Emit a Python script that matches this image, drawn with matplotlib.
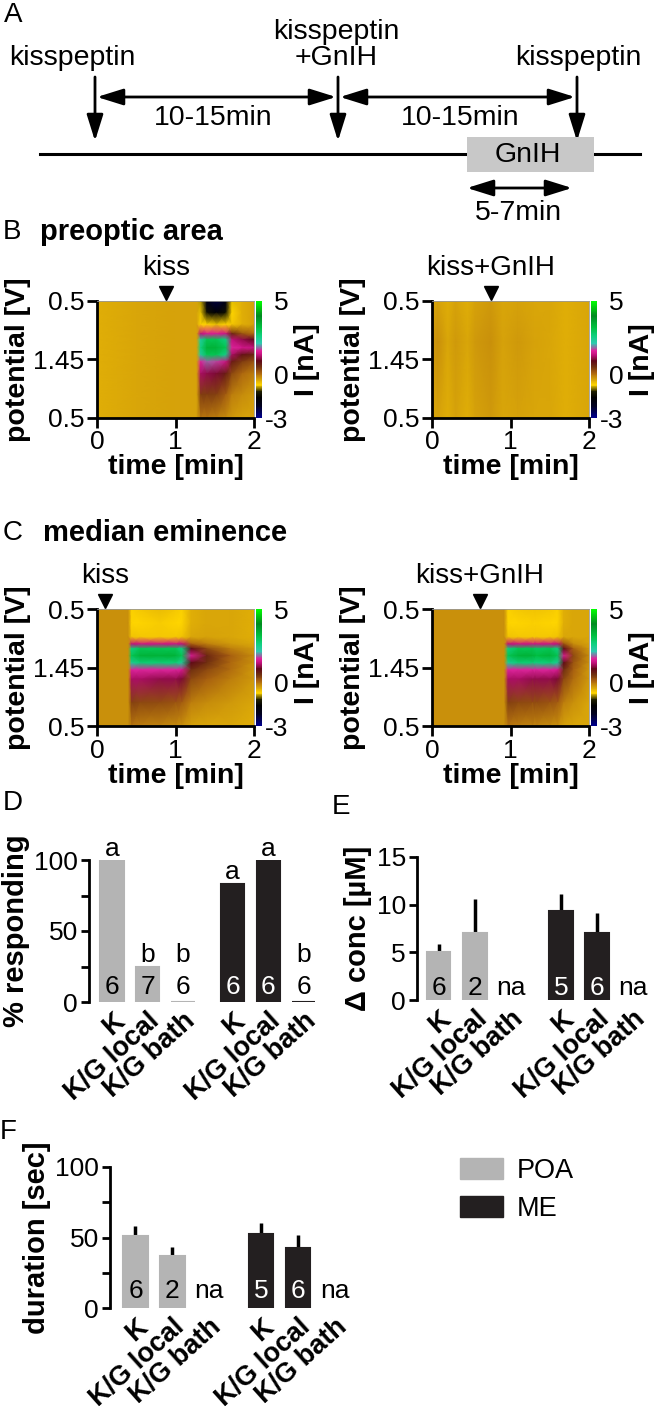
import matplotlib
matplotlib.use("Agg")
import matplotlib.pyplot as plt
import numpy as np
from matplotlib.colors import LinearSegmentedColormap
from matplotlib.patches import Rectangle, Patch

plt.rcParams['font.family'] = ['Liberation Sans', 'DejaVu Sans']
plt.rcParams['font.size'] = 19
plt.rcParams['axes.linewidth'] = 2

W, H = 656, 1411

# ---------------- data ----------------
# colour scale of the current plots (nA)
cscale_nA = [-3, -2.2, -1.6, -1.2, -0.75, -0.35, 0.1, 0.5, 0.9, 1.3, 1.6, 2.1, 2.6, 3.2, 4.0, 5.0]
cscale_col = ['#000090', '#000020', '#000000', '#202000', '#ffd500', '#d4a00a', '#a86010',
              '#703010', '#600818', '#c0107a', '#e0209a', '#30c8b0', '#10d080', '#00c040',
              '#008a20', '#00ff00']

# B left: preoptic area, kisspeptin (rows = fraction of sweep from top)
poa_kiss_t = [0, 0.5, 1.0, 1.27, 1.32, 1.4, 1.52, 1.64, 1.72, 1.85, 2.0]
poa_kiss_f = [0, 0.1, 0.2, 0.28, 0.33, 0.4, 0.46, 0.52, 0.62, 0.8, 1.0]
poa_kiss_z = [
    [-0.45, -0.4, -0.35, -0.35, -0.9, -2.0, -2.4, -2.0, -0.8, -0.45, -0.35],
    [-0.45, -0.4, -0.35, -0.35, -0.8, -1.4, -1.7, -1.4, -0.75, -0.45, -0.35],
    [-0.45, -0.4, -0.35, -0.35, -0.72, -0.75, -0.8, -0.75, -0.65, -0.45, -0.35],
    [-0.45, -0.4, -0.35, -0.35, 1.3, 1.5, 1.5, 1.4, 0.6, 0.2, 0.0],
    [-0.45, -0.4, -0.35, -0.35, 2.3, 3.0, 3.0, 2.6, 1.3, 1.1, 0.9],
    [-0.45, -0.4, -0.35, -0.35, 2.6, 3.4, 3.4, 3.0, 1.6, 1.45, 1.35],
    [-0.45, -0.4, -0.35, -0.35, 2.3, 3.0, 3.0, 2.5, 1.2, 0.8, 0.6],
    [-0.45, -0.4, -0.35, -0.35, 1.6, 1.8, 1.7, 1.4, 0.7, 0.4, 0.2],
    [-0.45, -0.4, -0.35, -0.35, 1.2, 1.1, 1.0, 0.7, 0.3, 0.05, -0.1],
    [-0.45, -0.4, -0.35, -0.35, 0.4, 0.4, 0.35, 0.15, -0.1, -0.2, -0.3],
    [-0.45, -0.4, -0.35, -0.35, -0.05, -0.05, -0.1, -0.2, -0.3, -0.35, -0.35],
]

# B right: preoptic area, kisspeptin + GnIH
poa_gnih_t = [0, 0.08, 0.2, 0.3, 0.45, 0.55, 0.75, 0.9, 1.1, 1.3, 1.5, 1.7, 2.0]
poa_gnih_f = [0, 0.35, 1.0]
poa_gnih_z = [
    [-0.4, -0.35, -0.45, -0.35, -0.45, -0.35, -0.3, -0.4, -0.35, -0.4, -0.4, -0.45, -0.4],
    [-0.3, -0.25, -0.4, -0.3, -0.4, -0.3, -0.25, -0.35, -0.3, -0.35, -0.4, -0.45, -0.4],
    [-0.4, -0.35, -0.45, -0.35, -0.45, -0.35, -0.3, -0.4, -0.35, -0.4, -0.4, -0.45, -0.4],
]

# C left: median eminence, kisspeptin
me_kiss_t = [0, 0.4, 0.44, 0.55, 0.8, 1.0, 1.08, 1.2, 1.4, 1.7, 2.0]
me_kiss_f = [0, 0.12, 0.24, 0.3, 0.34, 0.4, 0.46, 0.52, 0.6, 0.8, 1.0]
me_kiss_z = [
    [-0.25, -0.25, -0.7, -0.65, -0.55, -0.65, -0.7, -0.45, -0.4, -0.4, -0.45],
    [-0.25, -0.25, -0.72, -0.72, -0.68, -0.72, -0.72, -0.45, -0.4, -0.4, -0.45],
    [-0.25, -0.25, -0.6, -0.65, -0.65, -0.65, -0.6, -0.4, -0.35, -0.4, -0.45],
    [-0.25, -0.25, 1.3, 1.4, 1.4, 1.4, 1.3, 0.1, -0.1, -0.3, -0.4],
    [-0.25, -0.25, 2.6, 3.0, 3.0, 3.0, 2.6, 0.9, 0.3, -0.1, -0.3],
    [-0.25, -0.25, 3.0, 3.4, 3.4, 3.4, 3.0, 1.5, 0.6, 0.1, -0.2],
    [-0.25, -0.25, 2.4, 2.7, 2.7, 2.7, 2.4, 0.9, 0.5, 0.05, -0.25],
    [-0.25, -0.25, 1.6, 1.6, 1.6, 1.6, 1.5, 0.5, 0.3, 0.0, -0.3],
    [-0.25, -0.25, 1.2, 1.2, 1.1, 1.1, 1.0, 0.3, 0.1, -0.1, -0.3],
    [-0.25, -0.25, 0.35, 0.3, 0.25, 0.2, 0.15, -0.1, -0.2, -0.3, -0.4],
    [-0.25, -0.25, -0.05, -0.1, -0.15, -0.2, -0.25, -0.35, -0.4, -0.4, -0.45],
]

# C right: median eminence, kisspeptin + GnIH
me_gnih_t = [0, 0.5, 0.92, 0.97, 1.1, 1.28, 1.33, 1.5, 1.6, 1.68, 1.8, 2.0]
me_gnih_f = [0, 0.12, 0.24, 0.3, 0.34, 0.4, 0.46, 0.52, 0.6, 0.8, 1.0]
me_gnih_z = [
    [-0.25, -0.25, -0.25, -0.7, -0.65, -0.6, -0.6, -0.65, -0.7, -0.45, -0.4, -0.4],
    [-0.25, -0.25, -0.25, -0.72, -0.72, -0.7, -0.7, -0.72, -0.72, -0.45, -0.4, -0.4],
    [-0.25, -0.25, -0.25, -0.6, -0.65, -0.65, -0.65, -0.65, -0.6, -0.4, -0.4, -0.4],
    [-0.25, -0.25, -0.25, 1.3, 1.4, 1.4, 1.4, 1.4, 1.3, 0.2, -0.2, -0.35],
    [-0.25, -0.25, -0.25, 2.6, 3.0, 3.0, 2.9, 3.0, 2.6, 0.9, 0.1, -0.3],
    [-0.25, -0.25, -0.25, 3.0, 3.4, 3.4, 3.2, 3.4, 3.0, 1.5, 0.3, -0.2],
    [-0.25, -0.25, -0.25, 2.4, 2.7, 2.7, 2.6, 2.7, 2.4, 0.9, 0.2, -0.25],
    [-0.25, -0.25, -0.25, 1.6, 1.6, 1.6, 1.6, 1.6, 1.5, 0.5, 0.1, -0.3],
    [-0.25, -0.25, -0.25, 1.2, 1.2, 1.1, 1.1, 1.1, 1.0, 0.3, 0.0, -0.3],
    [-0.25, -0.25, -0.25, 0.35, 0.3, 0.25, 0.25, 0.2, 0.15, -0.1, -0.25, -0.4],
    [-0.25, -0.25, -0.25, -0.05, -0.1, -0.15, -0.15, -0.2, -0.25, -0.35, -0.4, -0.4],
]

# drug application times (min)
kiss_time = [0.88, 0.75, 0.1, 0.61]

# bar charts
groups = ['K', 'K/G local', 'K/G bath', 'K', 'K/G local', 'K/G bath']
region = ['POA', 'POA', 'POA', 'ME', 'ME', 'ME']

resp_pct = [100, 25, 0, 83.3, 100, 0]
resp_n = ['6', '7', '6', '6', '6', '6']
resp_sig = ['a', 'b', 'b', 'a', 'a', 'b']
resp_sig_at = [100, 25, 25, 83.3, 100, 25]

conc_mean = [5.0, 7.0, np.nan, 9.3, 7.0, np.nan]
conc_err = [0.9, 3.6, np.nan, 1.8, 2.1, np.nan]
conc_n = ['6', '2', 'na', '5', '6', 'na']

dur_mean = [51, 37, np.nan, 52.5, 42.5, np.nan]
dur_err = [7, 6, np.nan, 8, 9, np.nan]
dur_n = ['6', '2', 'na', '5', '6', 'na']

x_pos = np.array([0, 1, 2, 3.4, 4.4, 5.4])
colors = {'POA': '#b4b4b4', 'ME': '#231f20'}

# ---------------- figure ----------------
fscv = LinearSegmentedColormap.from_list(
    'fscv', [((v + 3) / 8, c) for v, c in zip(cscale_nA, cscale_col)])

fig = plt.figure(figsize=(W / 100, H / 100), dpi=100)
LAB = 20.5  # axis label size


def box(x0, y0, x1, y1):
    return [x0 / W, 1 - y1 / H, (x1 - x0) / W, (y1 - y0) / H]


def ftext(x, y, s, **kw):
    fig.text(x / W, 1 - y / H, s, **kw)


# ---- A: protocol ----
axA = fig.add_axes([0, 1 - 250 / H, 1, 250 / H])
axA.set_xlim(0, W)
axA.set_ylim(250, 0)
axA.axis('off')

one = '-|>,head_length=0.8,head_width=0.25'
two = '<|-|>,head_length=0.8,head_width=0.25'


def arrow(x0, y0, x1, y1, style):
    axA.annotate('', xy=(x1, y1), xytext=(x0, y0),
                 arrowprops=dict(arrowstyle=style, lw=2, color='k', shrinkA=0,
                                 shrinkB=0, mutation_scale=20))


axA.text(4, 15, 'A', ha='left', va='center', fontsize=20)
axA.text(72, 58, 'kisspeptin', ha='center', va='center', fontsize=20.5)
axA.text(336, 32, 'kisspeptin', ha='center', va='center', fontsize=20.5)
axA.text(336, 58, '+GnIH', ha='center', va='center', fontsize=20.5)
axA.text(578, 58, 'kisspeptin', ha='center', va='center', fontsize=20.5)
for xa in [95, 338, 577]:
    arrow(xa, 77, xa, 141, one)
arrow(97, 97, 336, 97, two)
arrow(340, 97, 575, 97, two)
axA.text(213, 118, '10-15min', ha='center', va='center', fontsize=20.5)
axA.text(460, 118, '10-15min', ha='center', va='center', fontsize=20.5)
axA.plot([40, 640], [154, 154], color='k', lw=2.2)
axA.add_patch(Rectangle((467, 137), 127, 35, fc='#c8c8c8', ec='none', zorder=3))
axA.text(528, 155, 'GnIH', ha='center', va='center', zorder=4, fontsize=20.5)
arrow(467, 188, 572, 188, two)
axA.text(518, 213, '5-7min', ha='center', va='center', fontsize=20.5)

ftext(3, 232, 'B', ha='left', va='center', fontsize=20)
ftext(40, 232, 'preoptic area', ha='left', va='center', fontsize=21, fontweight='bold')
ftext(3, 533, 'C', ha='left', va='center', fontsize=20)
ftext(43, 533, 'median eminence', ha='left', va='center', fontsize=21, fontweight='bold')


# ---- B, C: colour plots ----
def heat_panel(x0, y0, t, frac, z, t_drug, label):
    ax = fig.add_axes(box(x0, y0, x0 + 157, y0 + 117))
    T, Y = np.meshgrid(t, 1 - np.array(frac))
    mesh = ax.pcolormesh(T, Y, np.array(z), cmap=fscv, vmin=-3, vmax=5,
                         shading='gouraud', rasterized=True)
    ax.set_xlim(0, 2)
    ax.set_ylim(0, 1)
    ax.set_xticks([0, 1, 2])
    ax.set_yticks([0, 0.5, 1])
    ax.set_yticklabels(['0.5', '1.45', '0.5'])
    ax.tick_params(length=7, width=2, pad=2)
    for s in ['top', 'right']:
        ax.spines[s].set_linewidth(0.6)
        ax.spines[s].set_color('#999999')
    ax.set_xlabel('time [min]', fontweight='bold', fontsize=LAB, labelpad=0)
    ax.set_ylabel('potential [V]', fontweight='bold', fontsize=LAB, labelpad=2)
    ax.plot([t_drug], [1.065], marker='v', color='k', ms=10, clip_on=False)
    ax.text(t_drug, 1.28, label, ha='center', va='center', fontsize=20)
    cax = fig.add_axes(box(x0 + 159, y0, x0 + 165, y0 + 117))
    cb = fig.colorbar(mesh, cax=cax, ticks=[-3, 0, 5])
    cb.outline.set_visible(False)
    cb.set_ticklabels(['-3', '0', '5'])
    cax.tick_params(length=0, pad=19)
    for lbl in cax.get_yticklabels():
        lbl.set_ha('right')
    cb.set_label('I [nA]', fontweight='bold', fontsize=LAB, labelpad=4)


heat_panel(97, 301, poa_kiss_t, poa_kiss_f, poa_kiss_z, kiss_time[0], 'kiss')
heat_panel(432, 301, poa_gnih_t, poa_gnih_f, poa_gnih_z, kiss_time[1], 'kiss+GnIH')
heat_panel(97, 609, me_kiss_t, me_kiss_f, me_kiss_z, kiss_time[2], 'kiss')
heat_panel(432, 609, me_gnih_t, me_gnih_f, me_gnih_z, kiss_time[3], 'kiss+GnIH')


# ---- D, E, F: bar charts ----
def bar_panel(rect, xlim, vals, errs, ns, ymax, ticks, minor, ylabel, n_y):
    ax = fig.add_axes(rect)
    cols = [colors[r] for r in region]
    vals = np.array(vals, dtype=float)
    ok = ~np.isnan(vals)
    ax.bar(x_pos[ok], vals[ok], width=0.66, color=np.array(cols)[ok],
           edgecolor=np.array(cols)[ok], linewidth=1.5, zorder=2)
    if errs is not None:
        errs = np.array(errs, dtype=float)
        ax.errorbar(x_pos[ok], vals[ok], yerr=[np.zeros(ok.sum()), errs[ok]],
                    fmt='none', ecolor='k', elinewidth=2.5, capsize=0, zorder=1)
    for x, v, n, r in zip(x_pos, vals, ns, region):
        c = 'white' if (r == 'ME' and not np.isnan(v) and v > n_y) else 'black'
        ax.text(x, n_y, n, ha='center', va='center', color=c, zorder=3)
    ax.set_xlim(*xlim)
    ax.set_ylim(0, ymax)
    ax.set_yticks(ticks)
    ax.set_yticks(minor, minor=True)
    ax.tick_params(axis='y', which='both', length=6, width=2, pad=2)
    ax.set_xticks(x_pos)
    ax.set_xticklabels(groups, rotation=42, ha='right', va='top',
                       rotation_mode='anchor', fontweight='bold', fontsize=19.5)
    ax.tick_params(axis='x', length=0, pad=4)
    for s in ['top', 'right', 'bottom']:
        ax.spines[s].set_visible(False)
    ax.set_ylabel(ylabel, fontweight='bold', fontsize=21, labelpad=3)
    ax.patch.set_alpha(0)
    return ax


axD = bar_panel(box(89, 860, 325, 1002), (-0.65, 6.0), resp_pct, None, resp_n,
                100, [0, 50, 100], [25, 75], '% responding', 10.5)
for x, s, h in zip(x_pos, resp_sig, resp_sig_at):
    axD.text(x, h + 8, s, ha='center', va='center', clip_on=False)

bar_panel(box(417, 857, 650, 1000), (-0.6, 5.87), conc_mean, conc_err, conc_n,
          15, [0, 5, 10, 15], [], '\u0394 conc [\u00b5M]', 1.3)

bar_panel(box(110, 1167, 350, 1308), (-0.69, 5.81), dur_mean, dur_err, dur_n,
          100, [0, 50, 100], [25, 75], 'duration [sec]', 12)

ftext(3, 803, 'D', ha='left', va='center', fontsize=20)
ftext(332, 807, 'E', ha='left', va='center', fontsize=20)
ftext(0, 1132, 'F', ha='left', va='center', fontsize=20)

handles = [Patch(facecolor=colors['POA'], edgecolor=colors['POA'], label='POA'),
           Patch(facecolor=colors['ME'], edgecolor=colors['ME'], label='ME')]
fig.legend(handles=handles, loc='upper left', bbox_to_anchor=(460 / W, 1 - 1158 / H),
           frameon=False, borderaxespad=0, borderpad=0, handlelength=1.6,
           handleheight=0.8, handletextpad=0.5, labelspacing=0.45, fontsize=19.5)

fig.savefig('out.png', dpi=100)
